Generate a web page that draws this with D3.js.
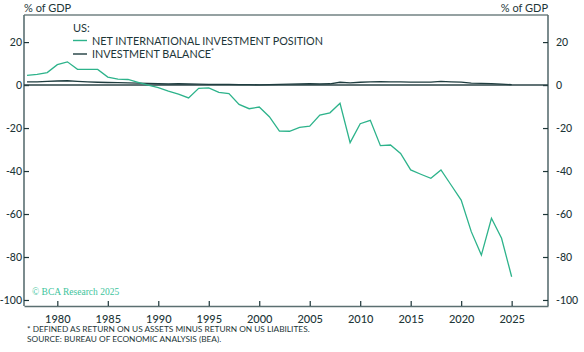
<!DOCTYPE html>
<html><head><meta charset="utf-8">
<script src="https://cdn.jsdelivr.net/npm/d3@7"></script>
<style>
html,body{margin:0;padding:0;background:#fff;}
svg{display:block;font-family:Lato,"Noto Sans",sans-serif;}
</style></head>
<body>
<svg id="c" width="584" height="352"></svg>
<script>
const years = d3.range(1977, 2026);
const niip = [4.5,5.0,5.8,9.5,10.8,7.3,7.3,7.3,3.7,2.8,2.6,1.3,0.0,-1.2,-2.8,-4.2,-6.0,-1.5,-1.3,-3.4,-4.0,-9.0,-11.0,-10.2,-14.7,-21.4,-21.5,-19.7,-19.1,-14.0,-12.9,-8.5,-26.8,-18.0,-16.4,-28.2,-27.9,-31.8,-39.5,-41.5,-43.4,-39.5,-46.5,-53.5,-68.2,-79.1,-62.0,-71.3,-89.2];
const invBal = [1.5,1.5,1.7,1.9,2.0,1.7,1.5,1.3,1.2,1.1,1.0,0.9,0.8,0.6,0.5,0.6,0.5,0.4,0.3,0.3,0.3,0.2,0.2,0.1,0.2,0.3,0.4,0.5,0.6,0.5,0.6,1.3,1.0,1.3,1.5,1.6,1.5,1.5,1.4,1.4,1.4,1.7,1.5,1.4,0.9,0.8,0.7,0.4,0.2];
const xTicks = [1980,1985,1990,1995,2000,2005,2010,2015,2020,2025];
const yTicks = [20,0,-20,-40,-60,-80,-100];
const seriesNames = ["NET INTERNATIONAL INVESTMENT POSITION","INVESTMENT BALANCE"];
const colors = ["#2db38b","#1f3d3f"];

const svg = d3.select("#c");
const L=24,R=548,T=15,B=306;
const x = d3.scaleLinear().domain([1976.7,2028.6]).range([L,R]);
const y = d3.scaleLinear().domain([-102.8,32.6]).range([B,T]);
const axisCol="#5b6f71", textCol="#1d3638";

svg.append("line").attr("x1",L).attr("x2",R).attr("y1",T).attr("y2",T).attr("stroke","#2c4447").attr("stroke-width",1.2);

const gx = svg.append("g").attr("transform",`translate(0,${B})`)
  .call(d3.axisBottom(x).tickValues(xTicks).tickFormat(d3.format("d")).tickSizeInner(-5).tickSizeOuter(0).tickPadding(9));
const gl = svg.append("g").attr("transform",`translate(${L},0)`)
  .call(d3.axisLeft(y).tickValues(yTicks).tickSizeInner(-5).tickSizeOuter(0).tickPadding(2));
const gr = svg.append("g").attr("transform",`translate(${R},0)`)
  .call(d3.axisRight(y).tickValues(yTicks).tickSizeInner(-5).tickSizeOuter(0).tickPadding(8));
[gx,gl,gr].forEach(g=>{
  g.select(".domain").attr("stroke",axisCol).attr("stroke-width",1.6);
  g.selectAll(".tick line").attr("stroke",textCol).attr("stroke-width",1.2);
  g.selectAll(".tick text").attr("fill",textCol).attr("font-size",10.5).attr("font-family","Lato,'Noto Sans',sans-serif").attr("font-weight",500);
});
gx.selectAll(".tick text").attr("font-size",11);
gl.select(".domain").attr("d",`M0,${T}V${B}`);
gr.select(".domain").attr("d",`M0,${T}V${B}`);
gl.selectAll(".tick text").text(d=>d<0?"-"+Math.abs(d):d);
gr.selectAll(".tick text").text(d=>d<0?"-"+Math.abs(d):d);

svg.append("line").attr("x1",L).attr("x2",R).attr("y1",y(0)).attr("y2",y(0)).attr("stroke","#2c4447").attr("stroke-width",1.4);

const line = d3.line().x((d,i)=>x(years[i])).y(d=>y(d));
svg.append("path").datum(invBal).attr("d",line).attr("fill","none").attr("stroke",colors[1]).attr("stroke-width",1.3);
svg.append("path").datum(niip).attr("d",line).attr("fill","none").attr("stroke",colors[0]).attr("stroke-width",1.3);

svg.append("text").attr("x",L).attr("y",12).attr("fill",textCol).attr("font-size",11).text("% of GDP");
svg.append("text").attr("x",R).attr("y",12).attr("text-anchor","end").attr("fill",textCol).attr("font-size",11).text("% of GDP");

svg.append("text").attr("x",73).attr("y",32).attr("fill",textCol).attr("font-size",11).text("US:");
seriesNames.forEach((n,i)=>{
  const yy = 40.5 + i*13.5;
  svg.append("line").attr("x1",73).attr("x2",87).attr("y1",yy).attr("y2",yy).attr("stroke",colors[i]).attr("stroke-width",1.4);
  const t = svg.append("text").attr("x",92).attr("y",yy+4).attr("fill",textCol).attr("font-size",10.8).text(n);
  if(i===1) t.append("tspan").attr("font-size",7).attr("dy",-4).text("*");
});

svg.append("text").attr("x",32).attr("y",295).attr("fill","#3cc49c").attr("font-size",9.5).attr("font-family","'Liberation Serif','DejaVu Serif',serif").text("© BCA Research 2025");

svg.append("text").attr("x",27).attr("y",332).attr("fill",textCol).attr("font-size",8.3).text("* DEFINED AS RETURN ON US ASSETS MINUS RETURN ON US LIABILITES.");
svg.append("text").attr("x",27).attr("y",341.5).attr("fill",textCol).attr("font-size",8.3).text("SOURCE: BUREAU OF ECONOMIC ANALYSIS (BEA).");
</script>
</body></html>
